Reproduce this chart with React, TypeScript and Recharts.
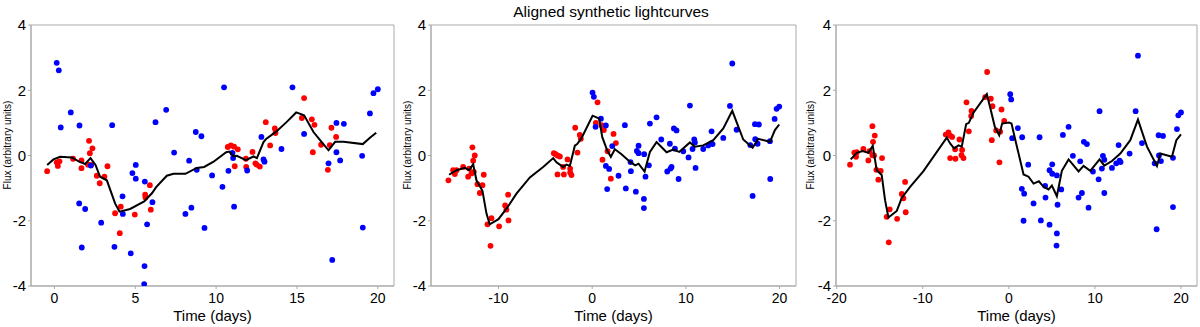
import { ScatterChart, Scatter, XAxis, YAxis, ReferenceArea } from "recharts";

// [time (days), flux] pairs
const p1Red = [[-0.45,-0.48],[0.14,-0.21],[0.21,-0.32],[0.31,-0.18],[1.15,-0.1],[1.67,-0.15],[1.67,-0.39],[2.14,0.45],[2.19,0.07],[2.35,0.22],[2.08,-0.28],[2.27,-0.29],[2.62,-0.62],[2.8,-0.85],[3.09,-0.65],[3.28,-0.33],[3.75,-1.77],[4.1,-1.57],[4.04,-2.38],[4.97,-1.81],[5.61,-1.2],[5.63,-1.29],[5.9,-0.91],[5.96,-1.66],[10.72,0.26],[10.91,0.31],[11.11,0.27],[11.15,-0.33],[11.34,0.19],[11.84,-0.1],[11.86,-0.35],[12.25,0.11],[12.43,-0.24],[12.52,-0.29],[12.7,-0.34],[13.07,1.02],[13.34,0.31],[13.63,0.83],[13.67,0.69],[15.3,1.15],[15.44,1.76],[15.92,1.11],[16.08,0.94],[15.98,0.1],[16.49,0.33],[17.13,0.85],[17.42,0.57],[16.91,-0.44],[17.03,0.32]];
const p1Blue = [[0.14,2.84],[0.27,2.61],[0.39,0.86],[1.01,1.32],[1.55,0.92],[1.53,-1.47],[1.9,-1.64],[1.69,-2.82],[2.25,-0.31],[2.89,-2.06],[3.57,0.93],[3.71,-2.8],[4.21,-1.25],[4.23,-1.79],[4.72,-3.0],[4.82,-0.54],[5.03,-0.29],[5.03,-0.71],[5.59,-0.8],[5.73,-2.11],[5.57,-3.39],[5.55,-3.94],[6.06,-1.43],[6.25,1.02],[6.91,1.4],[7.4,0.09],[8.33,-0.16],[8.1,-1.79],[8.47,-1.6],[8.74,0.72],[8.8,-0.44],[9.09,0.59],[9.28,-2.22],[9.75,-0.61],[10.39,-0.96],[10.49,2.09],[10.76,-0.47],[11.01,0.08],[11.05,-0.08],[11.11,-1.57],[11.92,-0.46],[12.8,0.57],[12.93,-0.12],[12.99,-0.19],[14.04,0.2],[14.72,2.09],[15.44,0.66],[16.95,-0.24],[17.18,-3.2],[17.44,1.0],[17.44,0.1],[17.67,-0.15],[17.9,0.97],[19.03,-0.01],[19.07,-2.21],[19.51,1.29],[19.73,1.91],[20.0,2.03]];
const p1Fit = [[-0.45,-0.29],[-0.06,-0.12],[0.35,-0.04],[1.07,-0.06],[1.5,-0.18],[1.9,-0.26],[2.23,-0.08],[2.54,-0.29],[2.82,-0.65],[3.24,-0.76],[3.75,-1.47],[4.02,-1.72],[4.68,-1.64],[5.55,-1.41],[6.04,-1.15],[6.29,-0.97],[6.95,-0.62],[7.36,-0.56],[8.1,-0.56],[8.8,-0.38],[9.26,-0.35],[9.84,-0.19],[10.62,0.1],[10.82,0.12],[11.07,-0.02],[11.28,-0.01],[11.84,-0.14],[12.31,-0.03],[12.52,-0.08],[12.93,0.41],[13.09,0.51],[13.71,0.73],[14.37,1.03],[14.95,1.32],[15.44,1.23],[16.02,0.72],[16.43,0.47],[16.95,0.16],[17.36,0.42],[17.88,0.42],[19.07,0.35],[19.53,0.55],[19.9,0.7]];

const p2Red = [[-15.34,-0.76],[-14.84,-0.45],[-14.66,-0.57],[-14.48,-0.45],[-13.77,-0.35],[-13.24,-0.65],[-13.13,-0.4],[-12.78,0.25],[-12.7,-0.16],[-12.53,0.0],[-12.63,-0.5],[-12.88,-0.55],[-12.24,-0.88],[-11.99,-1.15],[-11.71,-0.91],[-11.57,-0.59],[-11.17,-2.11],[-10.75,-1.92],[-9.93,-2.17],[-10.85,-2.77],[-9.29,-1.53],[-9.15,-1.66],[-8.97,-1.2],[-8.93,-1.99],[-4.09,0.07],[-3.91,0.04],[-3.7,0.0],[-3.45,-0.03],[-3.7,-0.58],[-3.1,-0.35],[-3.02,-0.58],[-2.63,-0.12],[-2.35,-0.4],[-2.35,-0.52],[-2.21,-0.6],[-1.81,0.85],[-1.57,0.09],[-1.32,0.63],[-1.21,0.51],[0.57,1.63],[0.39,1.0],[0.99,0.93],[1.25,0.78],[1.1,-0.13],[1.64,0.13],[1.99,-0.71],[2.28,0.66],[2.53,0.38]];
const p2Blue = [[0.04,1.93],[0.18,1.8],[0.36,0.88],[0.93,1.13],[1.46,0.92],[1.46,-0.32],[1.6,-1.03],[1.81,-0.41],[2.14,0.29],[2.81,-0.62],[3.49,0.93],[3.59,-1.01],[4.09,-0.2],[4.13,-0.48],[4.66,-1.11],[4.77,0.14],[4.95,0.3],[4.95,0.07],[5.55,0.04],[5.52,-1.33],[5.52,-1.61],[5.69,-0.65],[6.05,-0.3],[6.16,0.98],[6.87,1.17],[7.37,0.49],[8.01,-0.49],[8.29,0.36],[8.36,-0.4],[8.47,-0.35],[8.72,0.83],[8.83,0.21],[9.0,0.77],[9.22,-0.72],[9.72,0.13],[10.28,-0.06],[10.43,1.53],[10.71,0.2],[10.89,0.49],[10.96,0.4],[11.03,-0.38],[11.85,0.2],[12.38,0.31],[12.7,0.37],[12.74,0.74],[12.85,0.35],[13.99,0.54],[14.7,1.52],[14.95,2.82],[15.41,0.79],[16.87,0.32],[17.12,-1.24],[17.37,0.96],[17.4,0.5],[17.65,0.36],[17.79,0.95],[18.97,0.44],[19.0,-0.72],[19.47,1.12],[19.68,1.43],[19.96,1.5]];
const p2Fit = [[-15.27,-0.59],[-14.48,-0.45],[-13.59,-0.38],[-13.13,-0.45],[-12.7,-0.27],[-12.35,-0.76],[-11.71,-1.08],[-11.28,-1.78],[-10.93,-2.11],[-10.0,-1.95],[-9.07,-1.6],[-8.08,-1.17],[-6.65,-0.67],[-5.23,-0.35],[-4.16,-0.08],[-3.81,-0.21],[-3.1,-0.35],[-2.74,-0.28],[-2.38,-0.32],[-1.85,0.3],[-1.6,0.35],[-1.14,0.53],[0.04,1.22],[0.46,1.17],[0.75,1.13],[1.07,0.57],[1.6,0.16],[1.99,-0.04],[2.42,0.19],[3.13,0.04],[4.02,-0.19],[4.59,-0.3],[4.95,-0.25],[5.59,-0.49],[6.16,0.11],[6.87,0.41],[7.94,0.1],[8.65,0.18],[9.29,0.11],[10.43,0.4],[10.96,0.27],[11.85,0.31],[12.92,0.47],[13.99,0.83],[14.95,1.37],[16.12,0.49],[17.12,0.24],[17.72,0.51],[18.97,0.42],[19.5,0.78],[19.96,0.95]];

const p3Red = [[-18.45,-0.28],[-17.95,0.09],[-17.67,0.1],[-17.75,-0.04],[-16.9,0.2],[-16.32,-0.15],[-16.2,0.13],[-15.85,0.9],[-15.78,0.42],[-15.85,0.01],[-15.58,0.61],[-15.66,0.0],[-15.39,-0.44],[-15.16,-0.74],[-14.88,-0.47],[-14.73,-0.08],[-14.19,-1.88],[-13.84,-1.65],[-13.95,-2.66],[-12.98,-1.94],[-12.44,-1.18],[-12.25,-1.31],[-12.05,-0.81],[-11.98,-1.74],[-7.33,0.64],[-7.02,0.71],[-6.82,0.61],[-6.59,0.57],[-6.82,-0.08],[-6.24,0.19],[-6.2,-0.1],[-5.74,0.49],[-5.43,0.17],[-5.5,0.01],[-5.27,-0.08],[-4.92,1.63],[-4.65,0.74],[-4.34,1.37],[-4.38,1.21],[-2.75,1.79],[-2.52,2.56],[-2.09,1.74],[-1.9,1.51],[-1.98,0.47],[-1.47,0.77],[-1.09,-0.21],[-0.85,1.41],[-0.54,1.06],[-1.01,0.73]];
const p3Blue = [[0.16,1.88],[0.27,1.72],[0.39,0.53],[1.05,0.84],[1.51,-1.02],[1.55,0.56],[1.78,-1.17],[1.71,-2.0],[2.25,-0.28],[2.87,-1.47],[3.57,0.56],[3.72,-1.99],[4.22,-0.93],[4.26,-1.29],[4.73,-0.45],[4.73,-2.12],[5.04,-0.27],[5.04,-0.56],[5.58,-0.61],[5.66,-1.51],[5.58,-2.39],[5.54,-2.76],[6.09,-1.04],[6.28,0.63],[6.94,0.88],[7.44,-0.01],[8.29,-0.18],[8.1,-1.29],[8.49,-1.15],[8.72,0.42],[9.07,0.35],[9.26,-1.6],[9.77,-0.49],[10.43,-0.73],[10.54,1.36],[10.81,-0.4],[10.93,-0.01],[11.09,-0.13],[11.09,-1.15],[11.98,-0.38],[12.48,-0.24],[12.75,0.32],[12.87,-0.16],[12.98,-0.2],[14.03,0.06],[14.73,1.36],[15.0,3.06],[15.47,0.38],[16.94,-0.24],[17.17,-2.26],[17.4,0.62],[17.44,0.0],[17.67,-0.17],[17.91,0.6],[19.07,-0.07],[19.07,-1.58],[19.53,0.81],[19.69,1.23],[20.0,1.32]];
const p3Fit = [[-18.37,-0.12],[-17.67,0.08],[-16.98,0.14],[-16.32,0.08],[-15.81,0.3],[-15.35,-0.45],[-14.77,-0.6],[-14.38,-1.37],[-13.99,-1.9],[-13.02,-1.7],[-12.44,-1.3],[-11.47,-0.96],[-9.92,-0.48],[-7.21,0.55],[-6.82,0.37],[-6.36,0.22],[-5.85,0.31],[-5.47,0.27],[-4.96,0.96],[-4.65,1.0],[-4.11,1.31],[-2.56,1.88],[-2.09,1.39],[-1.63,0.88],[-1.12,0.62],[-0.78,0.98],[0.0,1.01],[0.31,0.98],[0.85,0.37],[1.71,-0.58],[2.29,-0.65],[2.87,-0.86],[3.49,-0.79],[4.03,-0.96],[4.61,-1.04],[5.0,-0.92],[5.58,-1.25],[6.16,-0.47],[6.94,-0.12],[8.1,-0.49],[8.68,-0.32],[9.46,-0.47],[10.54,-0.12],[11.09,-0.31],[11.98,-0.17],[12.95,0.06],[14.11,0.47],[15.0,1.1],[16.05,0.27],[17.21,-0.32],[17.6,0.06],[18.95,-0.04],[19.46,0.47],[20.0,0.65]];

const p1Ticks = [0, 5, 10, 15, 20];
const p2Ticks = [-10, 0, 10, 20];
const p3Ticks = [-20, -10, 0, 10, 20];
const fluxTicks = [-4, -2, 0, 2, 4];

const FONT = "'Liberation Sans', Arial, Helvetica, sans-serif";
const FRAME = "#aaaaaa";

const toPts = (arr: number[][]) => arr.map(([t, f]) => ({ t, f }));

const dot = (color: string) => (props: any) =>
  <circle cx={props.cx} cy={props.cy} r={2.9} fill={color} />;

const noDot = () => <g />;

interface PanelProps {
  left: number;
  width: number;
  axisWidth: number;
  marginRight: number;
  domain: [number, number];
  ticks: number[];
  red: number[][];
  blue: number[][];
  fit: number[][];
  yLabelX: number;
}

function Panel({ left, width, axisWidth, marginRight, domain, ticks, red, blue, fit, yLabelX }: PanelProps) {
  return (
    <div style={{ position: "absolute", left, top: 0, width, height: 327 }}>
      <ScatterChart width={width} height={327} margin={{ top: 25, right: marginRight, bottom: 0, left: 0 }}>
        <XAxis
          dataKey="t"
          type="number"
          domain={domain}
          ticks={ticks}
          allowDataOverflow
          height={41}
          stroke={FRAME}
          tickSize={3}
          tickMargin={4}
          tick={{ fill: "#000", fontSize: 14, fontFamily: FONT }}
          label={{ value: "Time (days)", position: "insideBottom", offset: 6, fill: "#000", fontSize: 15, fontFamily: FONT }}
        />
        <YAxis
          dataKey="f"
          type="number"
          domain={[-4, 4]}
          ticks={fluxTicks}
          allowDataOverflow
          width={axisWidth}
          stroke={FRAME}
          tickSize={3}
          tickMargin={2}
          tick={{ fill: "#000", fontSize: 15, fontFamily: FONT }}
        />
        <ReferenceArea x1={domain[0]} x2={domain[1]} y1={-4} y2={4} fill="none" stroke={FRAME} strokeWidth={1} />
        <Scatter data={toPts(red)} shape={dot("#ff0000")} isAnimationActive={false} />
        <Scatter data={toPts(blue)} shape={dot("#0000ff")} isAnimationActive={false} />
        <Scatter
          data={toPts(fit)}
          shape={noDot}
          line={{ stroke: "#000", strokeWidth: 2 }}
          lineType="joint"
          isAnimationActive={false}
        />
      </ScatterChart>
      <div
        style={{
          position: "absolute",
          left: yLabelX,
          top: 145,
          transform: "translate(-50%, -50%) rotate(-90deg)",
          whiteSpace: "nowrap",
          fontSize: 10,
          fontFamily: FONT,
          color: "#000",
        }}
      >
        Flux (arbitrary units)
      </div>
    </div>
  );
}

export default function App() {
  return (
    <div style={{ position: "absolute", left: 0, top: 0, width: 1200, height: 327, background: "#fff", overflow: "hidden" }}>
      <div
        style={{
          position: "absolute",
          left: 611,
          top: 12,
          transform: "translate(-50%, -50%)",
          whiteSpace: "nowrap",
          fontSize: 15.5,
          fontFamily: FONT,
          color: "#000",
        }}
      >
        Aligned synthetic lightcurves
      </div>
      <Panel left={0} width={400} axisWidth={31} marginRight={6} domain={[-1.45, 21.0]} ticks={p1Ticks} red={p1Red} blue={p1Blue} fit={p1Fit} yLabelX={7} />
      <Panel left={400} width={400} axisWidth={31} marginRight={4} domain={[-17.2, 21.75]} ticks={p2Ticks} red={p2Red} blue={p2Blue} fit={p2Fit} yLabelX={7} />
      <Panel left={800} width={400} axisWidth={36} marginRight={3} domain={[-20.08, 21.86]} ticks={p3Ticks} red={p3Red} blue={p3Blue} fit={p3Fit} yLabelX={10} />
    </div>
  );
}
